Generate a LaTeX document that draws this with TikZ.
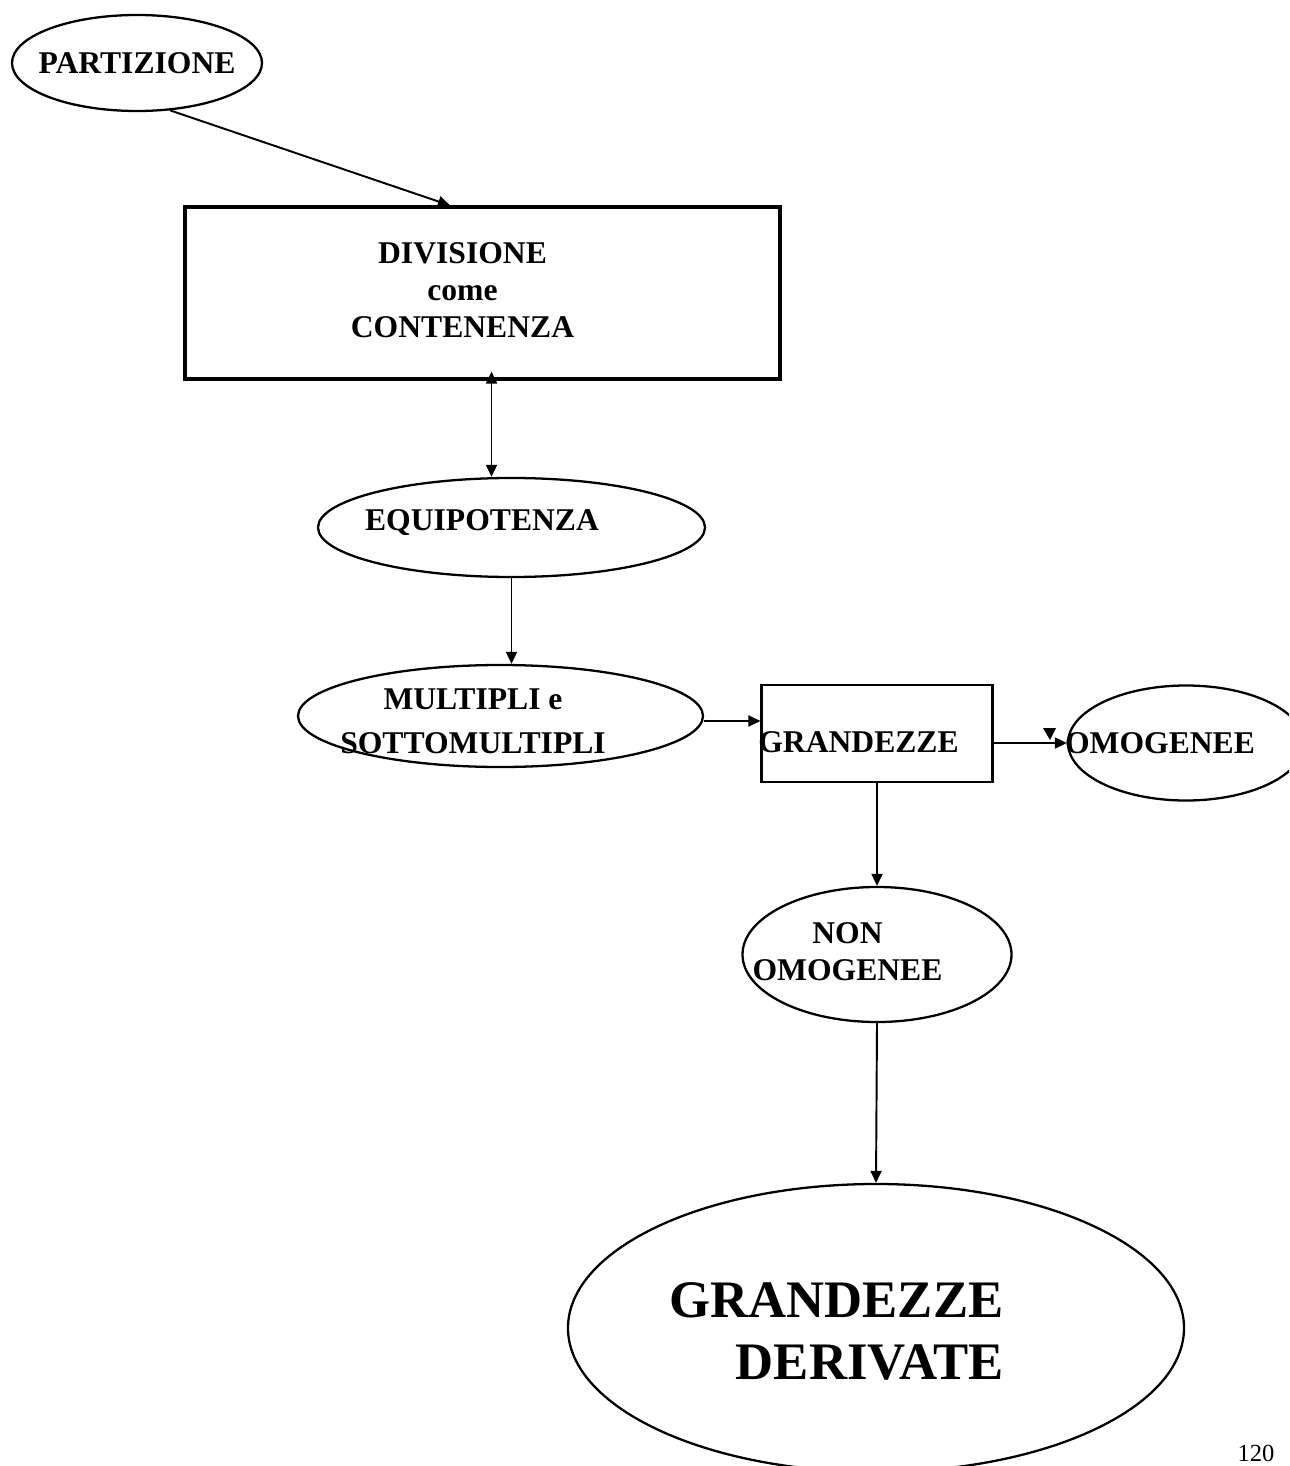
\documentclass[tikz,border=0pt]{standalone}
\usepackage{fontspec}
\setmainfont{Liberation Serif}
\usetikzlibrary{arrows.meta,shapes.geometric}
\tikzset{
  >={Triangle[length=2.4mm,width=2.2mm]},
  oval/.style={ellipse,draw,line width=1.3pt,inner sep=0pt},
  frame/.style={rectangle,draw,line width=#1,inner sep=0pt},
  frame/.default=1.2pt,
  lbl/.style={font=\fontsize{18}{21}\selectfont\bfseries,align=center,inner sep=0pt},
  biglbl/.style={font=\fontsize{30}{35}\selectfont\bfseries,align=right,inner sep=0pt},
  link/.style={->,line width=1.1pt},
}
\begin{document}
\begin{tikzpicture}[x=0.2mm,y=-0.2mm]
  \clip (0,0) rectangle (1289,1466);
  % concepts
  \node[oval,minimum width=50mm,minimum height=19.2mm,
    label={[lbl]center:PARTIZIONE}] (part) at (137,63) {};
  \node[frame=1.8pt,minimum width=119mm,minimum height=34.4mm,
    label={[lbl,xshift=-4mm,yshift=0.6mm]center:DIVISIONE\\come\\CONTENENZA}] (div) at (482.5,293) {};
  \node[oval,minimum width=77.4mm,minimum height=19.8mm,
    label={[lbl,xshift=-5.9mm,yshift=0.9mm]center:EQUIPOTENZA}] (equi) at (511.5,527.5) {};
  \node[oval,minimum width=81mm,minimum height=20.4mm,
    label={[lbl,font=\fontsize{18}{25}\selectfont\bfseries,xshift=-5.5mm,yshift=-1mm]center:MULTIPLI e\\SOTTOMULTIPLI}] (mult) at (500.5,716) {};
  \node[frame,minimum width=46.2mm,minimum height=19.4mm,
    label={[lbl,xshift=-3.7mm,yshift=-1.8mm]center:GRANDEZZE}] (gra) at (877,733.5) {};
  \node[oval,minimum width=47.2mm,minimum height=23mm,
    label={[lbl,xshift=-5.2mm]center:OMOGENEE}] (omo) at (1186,743) {};
  \node[oval,minimum width=53.8mm,minimum height=27mm,
    label={[lbl,xshift=-5.9mm,yshift=0.6mm]center:NON\\OMOGENEE}] (non) at (877,954.5) {};
  \node[oval,minimum width=123.2mm,minimum height=57.6mm,
    label={[biglbl,xshift=-7.9mm,yshift=-0.7mm]center:GRANDEZZE\\DERIVATE}] (der) at (876,1328) {};
  \node[font=\fontsize{14}{16}\selectfont,anchor=base,inner sep=0pt] (pg) at (1256,1461) {120};
  % links
  \draw[link] (part.-55) -- ([xshift=-6.5mm]div.north);
  \draw[link,<->,shorten <=-1.8mm] ([xshift=1.8mm]div.south) -- ([xshift=1.8mm]div.south |- equi.north);
  \draw[link] (equi.south) -- (equi.south |- mult.north);
  \draw[link] ([yshift=-1mm]mult.east) -- ([yshift=-1mm]mult.east -| gra.west);
  \draw[link] (gra.east |- omo.west) -- (omo.west);
  \fill (1043,728) -- (1056,728) -- (1050,740) -- cycle;
  \draw[link] (gra.south) -- (non.north);
  \draw[link] (non.south) -- (der.north);
\end{tikzpicture}
\end{document}
